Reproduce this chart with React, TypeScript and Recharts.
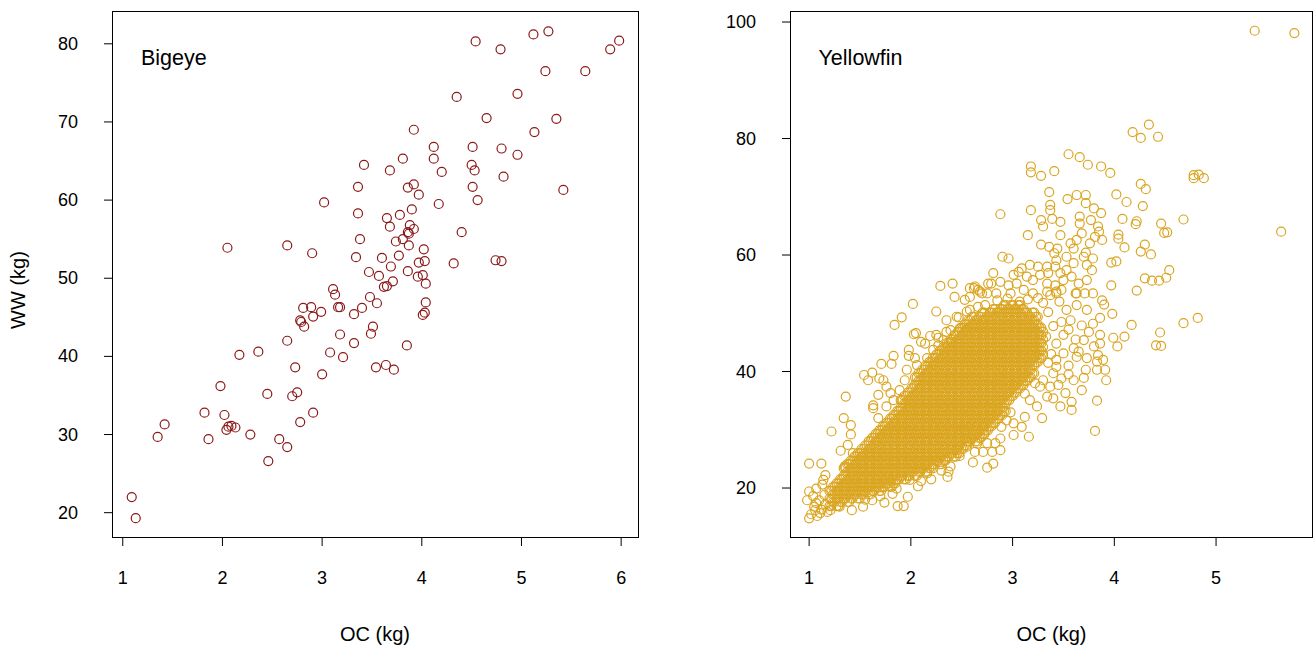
import React from 'react';
import { ScatterChart, Scatter, XAxis, YAxis } from 'recharts';

const FONT = '"Liberation Sans", Arial, Helvetica, sans-serif';

const bigeyeTicksX = [1, 2, 3, 4, 5, 6];
const bigeyeTicksY = [20, 30, 40, 50, 60, 70, 80];
const yellowfinTicksX = [1, 2, 3, 4, 5];
const yellowfinTicksY = [20, 40, 60, 80, 100];

// Bigeye: [OC (kg), WW (kg)]
const bigeyePoints: [number, number][] = [
  [4.54,80.3],[4.79,79.3],[5.12,81.2],[5.27,81.6],[5.89,79.3],[5.98,80.4],[5.24,76.5],[5.64,76.5],[4.35,73.2],[4.96,73.6],
  [4.65,70.5],[5.35,70.4],[5.13,68.7],[3.92,69.0],[4.12,66.8],[4.51,66.8],[4.80,66.6],[4.96,65.8],[3.81,65.3],[4.12,65.3],
  [3.42,64.5],[4.50,64.5],[4.53,63.8],[3.68,63.8],[4.20,63.6],[4.82,63.0],[3.36,61.7],[3.86,61.6],[3.92,62.0],[3.97,60.7],
  [4.51,61.7],[4.56,60.0],[5.42,61.3],[3.02,59.7],[4.17,59.5],[3.36,58.3],[3.90,58.8],[3.78,58.1],[3.65,57.7],[3.68,56.6],
  [3.88,56.8],[3.92,56.3],[3.86,55.9],[3.87,55.7],[3.81,55.0],[3.74,54.7],[3.87,54.2],[3.38,55.0],[4.40,55.9],[2.05,53.9],
  [2.65,54.2],[2.90,53.2],[3.34,52.7],[3.60,52.6],[3.77,52.9],[4.02,53.7],[4.03,52.2],[3.97,52.0],[3.69,51.5],[4.32,51.9],
  [4.74,52.3],[4.80,52.2],[3.47,50.8],[3.57,50.3],[3.86,50.9],[4.01,50.4],[3.96,50.2],[3.71,49.6],[4.04,49.3],[3.62,48.9],
  [3.65,49.0],[3.11,48.6],[3.13,47.9],[3.48,47.6],[3.55,46.8],[4.04,46.9],[2.81,46.2],[2.89,46.3],[3.16,46.3],[3.18,46.3],
  [3.40,46.2],[2.99,45.7],[2.91,45.1],[3.32,45.4],[2.78,44.6],[2.79,44.4],[2.82,43.8],[4.01,45.3],[4.03,45.6],[3.51,43.8],
  [3.49,42.9],[3.18,42.8],[2.65,42.0],[3.32,41.7],[3.85,41.4],[2.36,40.6],[2.17,40.2],[3.08,40.5],[3.21,39.9],[2.73,38.6],
  [3.54,38.6],[3.64,38.9],[3.72,38.3],[3.00,37.7],[1.98,36.2],[2.45,35.2],[2.70,34.9],[2.75,35.4],[1.82,32.8],[2.02,32.5],
  [2.91,32.8],[1.42,31.3],[2.78,31.6],[2.04,30.6],[2.06,31.0],[2.09,31.1],[2.13,30.9],[2.28,30.0],[1.35,29.7],[1.86,29.4],
  [2.57,29.4],[2.65,28.4],[2.46,26.6],[1.09,22.0],[1.13,19.3],
];

// Yellowfin: separately readable circles [OC (kg), WW (kg)]
const yellowfinSparse: [number, number][] = [
  [5.38,98.5],[5.77,98.1],[4.34,82.4],[4.18,81.1],[4.26,80.1],[4.43,80.3],[3.96,74.1],[4.78,73.7],[4.83,73.8],[4.78,73.2],
  [4.88,73.2],[4.26,72.2],[4.31,71.3],[4.02,70.4],[4.12,69.1],[4.28,68.4],[4.08,66.2],[4.22,65.8],[4.21,65.3],[4.46,65.4],
  [4.68,66.1],[4.49,63.8],[4.52,63.9],[5.64,64.0],[4.04,63.5],[4.04,62.8],[4.10,61.3],[4.30,61.8],[4.26,60.6],[4.36,60.1],
  [3.97,58.7],[4.02,58.9],[4.54,57.4],[4.30,56.0],[4.37,55.6],[4.44,55.6],[4.51,56.1],[3.97,54.8],[4.22,53.9],[3.79,53.4],
  [3.88,52.2],[3.90,51.5],[3.98,49.9],[3.86,49.2],[3.79,48.2],[4.17,48.0],[4.68,48.3],[4.82,49.2],[4.45,46.7],[3.86,46.3],
  [3.99,45.8],[4.10,46.0],[4.41,44.5],[4.46,44.4],
  [3.55,77.3],[3.66,76.8],[3.74,75.5],[3.87,75.2],[3.18,75.2],[3.18,74.2],[3.28,73.6],[3.41,74.4],[3.36,70.8],[3.54,69.6],
  [3.63,70.3],[3.72,70.3],[3.72,68.9],[3.80,68.0],[3.87,67.2],[3.37,68.6],[3.37,67.7],[2.88,67.0],[3.18,67.7],[3.28,66.0],
  [3.39,66.2],[3.47,65.7],[3.30,64.9],[3.66,66.6],[3.66,65.4],[3.77,66.0],[3.84,64.9],[3.85,64.0],[3.81,63.1],[3.88,62.6],
  [3.68,63.7],[3.63,62.6],[3.76,62.0],[3.15,63.4],[3.47,63.4],[3.28,61.8],[3.36,61.4],[3.44,61.1],[3.57,62.0],[3.60,61.1],
  [3.72,60.4],[2.90,59.7],[2.96,59.4],[3.41,60.3],[3.43,59.1],[3.53,59.7],[3.60,58.6],[3.70,59.7],[3.73,58.3],[3.79,59.4],
  [3.78,57.4],[3.09,57.7],[3.17,58.3],[3.25,58.0],[3.34,58.0],[3.42,58.0],[3.35,56.9],[3.47,56.9],[3.53,57.4],[3.58,56.3],
  [3.50,55.7],[3.42,54.8],[3.34,55.1],[3.27,56.6],[3.20,55.7],[3.14,56.3],[3.06,57.1],[3.01,56.6],[3.04,55.1],[2.96,54.8],
  [2.88,55.4],[2.81,56.9],[2.79,55.1],[2.75,53.4],[2.63,54.6],[2.66,54.0],[2.58,52.8],[2.70,53.4],[3.65,55.1],[3.73,55.7],
  [3.62,53.4],[3.71,53.4],[2.84,53.4],[2.98,53.4],[3.11,54.0],[3.20,53.4],[3.34,53.7],[3.43,53.4],[3.48,54.0],
  [2.29,54.7],[2.41,55.1],[2.43,52.8],[2.53,52.3],[2.58,54.3],[2.02,51.6],[2.25,50.3],[2.35,48.8],[2.45,49.4],[2.48,47.4],
  [2.55,50.3],[1.91,49.3],[1.84,48.0],[2.05,46.6],[2.10,45.1],[2.19,46.1],[2.25,46.3],[2.35,46.8],[2.32,45.4],[2.39,45.1],
  [1.98,43.7],[1.98,42.7],[2.04,42.3],[2.16,42.3],[2.22,43.7],[2.27,44.5],[1.83,42.7],[1.71,41.3],[1.81,41.3],[1.54,39.4],
  [1.58,38.5],[1.62,39.8],[1.69,38.8],[1.73,38.5],[1.76,37.4],[1.80,36.3],[1.68,36.0],[1.63,34.2],[1.36,35.7],[1.96,40.3],
  [2.06,41.1],[1.94,38.5],[1.89,36.8],[1.83,35.1],[1.76,34.0],
  [2.62,54.3],[2.68,53.7],[2.76,55.1],[2.47,49.3],[2.58,50.6],[2.66,51.1],[2.73,51.4],[2.03,46.4],[2.14,44.8],[2.27,45.8],
  [2.39,47.1],[2.55,47.1],
  [1.22,29.7],[1.34,32.0],[1.41,30.8],[1.41,29.2],[1.38,27.4],[1.31,26.4],[1.43,26.0],[1.35,23.7],[1.00,24.2],[1.12,24.2],
  [1.14,21.4],[1.16,22.2],[1.00,19.4],[0.98,17.9],[1.06,16.2],[1.00,14.8],[1.07,17.4],[1.11,15.7],[1.21,16.2],[1.30,16.8],
  [1.42,16.2],[1.53,16.8],[1.62,17.9],[1.74,17.5],[1.87,16.9],[1.93,16.9],[1.97,18.5],[1.86,19.9],[2.07,20.3],[1.99,21.4],
  [2.16,22.5],[2.22,23.4],[2.37,22.8],[2.36,21.9],[2.39,23.7],[2.34,24.8],[2.45,26.5],[2.55,27.1],[1.63,33.7],[1.68,32.0],
  [1.02,15.5],[1.05,16.8],[1.08,15.2],[1.10,17.9],[1.04,18.6],[1.12,16.3],[1.15,18.8],[1.18,15.9],[1.07,19.9],[1.13,20.6],
  [1.16,17.2],
  [3.80,44.3],[3.84,42.8],[3.89,42.0],[3.83,41.7],[3.91,40.3],[3.83,40.3],[3.92,38.5],[3.72,40.3],[3.73,42.3],[3.63,42.5],
  [3.65,43.4],[3.70,45.4],[3.86,44.8],[4.03,44.3],[3.63,51.4],[3.53,50.6],[3.57,48.8],[3.50,46.3],[3.43,44.8],[3.50,43.1],
  [3.43,42.0],[3.43,40.8],[3.40,39.7],[3.45,37.7],[3.37,37.4],[3.34,35.7],[3.40,35.4],[3.47,34.0],[3.58,34.8],[3.58,33.4],
  [3.83,35.0],[3.81,29.8],[3.29,32.0],[3.24,34.0],[3.17,35.1],[3.27,37.4],[3.30,38.5],[3.12,32.2],[3.01,31.1],[3.09,30.5],
  [3.16,28.8],[3.01,29.1],[2.89,30.5],[2.88,28.5],[2.83,27.7],[2.75,27.7],[2.88,26.5],[2.80,26.2],[2.71,26.2],[2.63,26.2],
  [2.61,24.4],[2.75,23.5],[2.81,24.2],[2.53,29.9],[2.55,28.0],[3.07,52.0],[3.37,53.1],[3.43,53.7],[3.63,53.4],[3.73,50.6],
  [3.35,50.2],[3.40,47.8],[3.33,46.0],[3.38,43.0],[3.55,41.0],[3.60,38.5],[3.52,36.3],[3.68,36.8],[3.62,45.5],[3.46,52.0],
  [3.30,51.8],[3.35,41.5],[3.25,52.6],[3.15,52.4],[2.95,52.5],[2.85,52.2],[3.22,38.0],[3.12,36.2],[2.98,33.0],[2.94,31.6],
  [2.72,29.2],[2.65,27.6],[2.48,25.5],[2.30,23.0],[2.20,21.5],[2.10,21.2],[1.82,19.0],[1.70,18.6],[1.55,18.0],[3.55,47.2],
  [3.48,48.5],[3.68,47.9],[3.75,46.8],[3.60,44.0],[3.55,39.5],[3.48,38.8],[3.70,38.9],
];

// Yellowfin: the overlapping solid mass, estimated strip by strip: [OC values, WW values]
const yellowfinDenseStrips: [number[], number[]][] = [
  [[1.200,1.2175],[16.9,18.2,19.5]],
  [[1.235,1.2525],[17.6,18.9,20.2]],
  [[1.270,1.2875],[16.9,18.2,19.5,20.8]],
  [[1.305,1.3225],[17.6,18.9,20.2,21.5]],
  [[1.340,1.3575],[18.2,19.5,20.8,22.1,23.4]],
  [[1.375,1.3925],[17.6,18.9,20.2,21.5,22.8,24.1]],
  [[1.410,1.4275],[18.2,19.5,20.8,22.1,23.4,24.7]],
  [[1.445,1.4625],[18.9,20.2,21.5,22.8,24.1,25.4]],
  [[1.480,1.4975],[18.2,19.5,20.8,22.1,23.4,24.7,26.0]],
  [[1.515,1.5325],[18.9,20.2,21.5,22.8,24.1,25.4,26.7]],
  [[1.550,1.5675],[19.5,20.8,22.1,23.4,24.7,26.0,27.3]],
  [[1.585,1.6025],[18.9,20.2,21.5,22.8,24.1,25.4,26.7,28.0]],
  [[1.620,1.6375],[19.5,20.8,22.1,23.4,24.7,26.0,27.3,28.6]],
  [[1.655,1.6725],[20.2,21.5,22.8,24.1,25.4,26.7,28.0,29.3]],
  [[1.690,1.7075],[19.5,20.8,22.1,23.4,24.7,26.0,27.3,28.6,29.9]],
  [[1.725,1.7425],[20.2,21.5,22.8,24.1,25.4,26.7,28.0,29.3,30.6]],
  [[1.760,1.7775],[20.8,22.1,23.4,24.7,26.0,27.3,28.6,29.9,31.2]],
  [[1.795,1.8125],[20.2,21.5,22.8,24.1,25.4,26.7,28.0,29.3,30.6,31.9]],
  [[1.830,1.8475],[20.8,22.1,23.4,24.7,26.0,27.3,28.6,29.9,31.2,32.5]],
  [[1.865,1.8825],[21.5,22.8,24.1,25.4,26.7,28.0,29.3,30.6,31.9,33.2]],
  [[1.900,1.9175],[22.1,23.4,24.7,26.0,27.3,28.6,29.9,31.2,32.5,33.8,35.1]],
  [[1.935,1.9525],[21.5,22.8,24.1,25.4,26.7,28.0,29.3,30.6,31.9,33.2,34.5,35.8]],
  [[1.970,1.9875],[22.1,23.4,24.7,26.0,27.3,28.6,29.9,31.2,32.5,33.8,35.1,36.4]],
  [[2.005,2.0225],[22.8,24.1,25.4,26.7,28.0,29.3,30.6,31.9,33.2,34.5,35.8,37.1]],
  [[2.040,2.0575],[22.1,23.4,24.7,26.0,27.3,28.6,29.9,31.2,32.5,33.8,35.1,36.4,37.7,39.0]],
  [[2.075,2.0925],[22.8,24.1,25.4,26.7,28.0,29.3,30.6,31.9,33.2,34.5,35.8,37.1,38.4,39.7]],
  [[2.110,2.1275],[23.4,24.7,26.0,27.3,28.6,29.9,31.2,32.5,33.8,35.1,36.4,37.7,39.0,40.3]],
  [[2.145,2.1625],[22.8,24.1,25.4,26.7,28.0,29.3,30.6,31.9,33.2,34.5,35.8,37.1,38.4,39.7,41.0]],
  [[2.180,2.1975],[23.4,24.7,26.0,27.3,28.6,29.9,31.2,32.5,33.8,35.1,36.4,37.7,39.0,40.3,41.6]],
  [[2.215,2.2325],[24.1,25.4,26.7,28.0,29.3,30.6,31.9,33.2,34.5,35.8,37.1,38.4,39.7,41.0,42.3]],
  [[2.250,2.2675],[24.7,26.0,27.3,28.6,29.9,31.2,32.5,33.8,35.1,36.4,37.7,39.0,40.3,41.6,42.9]],
  [[2.285,2.3025],[24.1,25.4,26.7,28.0,29.3,30.6,31.9,33.2,34.5,35.8,37.1,38.4,39.7,41.0,42.3,43.6]],
  [[2.320,2.3375],[24.7,26.0,27.3,28.6,29.9,31.2,32.5,33.8,35.1,36.4,37.7,39.0,40.3,41.6,42.9,44.2]],
  [[2.355,2.3725],[25.4,26.7,28.0,29.3,30.6,31.9,33.2,34.5,35.8,37.1,38.4,39.7,41.0,42.3,43.6,44.9]],
  [[2.390,2.4075],[26.0,27.3,28.6,29.9,31.2,32.5,33.8,35.1,36.4,37.7,39.0,40.3,41.6,42.9,44.2,45.5]],
  [[2.425,2.4425],[25.4,26.7,28.0,29.3,30.6,31.9,33.2,34.5,35.8,37.1,38.4,39.7,41.0,42.3,43.6,44.9,46.2]],
  [[2.460,2.4775],[26.0,27.3,28.6,29.9,31.2,32.5,33.8,35.1,36.4,37.7,39.0,40.3,41.6,42.9,44.2,45.5,46.8]],
  [[2.495,2.5125],[26.7,28.0,29.3,30.6,31.9,33.2,34.5,35.8,37.1,38.4,39.7,41.0,42.3,43.6,44.9,46.2,47.5]],
  [[2.530,2.5475],[27.3,28.6,29.9,31.2,32.5,33.8,35.1,36.4,37.7,39.0,40.3,41.6,42.9,44.2,45.5,46.8,48.1]],
  [[2.565,2.5825],[28.0,29.3,30.6,31.9,33.2,34.5,35.8,37.1,38.4,39.7,41.0,42.3,43.6,44.9,46.2,47.5,48.8]],
  [[2.600,2.6175],[28.6,29.9,31.2,32.5,33.8,35.1,36.4,37.7,39.0,40.3,41.6,42.9,44.2,45.5,46.8,48.1,49.4]],
  [[2.635,2.6525],[28.0,29.3,30.6,31.9,33.2,34.5,35.8,37.1,38.4,39.7,41.0,42.3,43.6,44.9,46.2,47.5,48.8]],
  [[2.670,2.6875],[28.6,29.9,31.2,32.5,33.8,35.1,36.4,37.7,39.0,40.3,41.6,42.9,44.2,45.5,46.8,48.1,49.4]],
  [[2.705,2.7225],[29.3,30.6,31.9,33.2,34.5,35.8,37.1,38.4,39.7,41.0,42.3,43.6,44.9,46.2,47.5,48.8,50.1]],
  [[2.740,2.7575],[29.9,31.2,32.5,33.8,35.1,36.4,37.7,39.0,40.3,41.6,42.9,44.2,45.5,46.8,48.1,49.4]],
  [[2.775,2.7925],[30.6,31.9,33.2,34.5,35.8,37.1,38.4,39.7,41.0,42.3,43.6,44.9,46.2,47.5,48.8,50.1]],
  [[2.810,2.8275],[31.2,32.5,33.8,35.1,36.4,37.7,39.0,40.3,41.6,42.9,44.2,45.5,46.8,48.1,49.4,50.7]],
  [[2.845,2.8625],[31.9,33.2,34.5,35.8,37.1,38.4,39.7,41.0,42.3,43.6,44.9,46.2,47.5,48.8,50.1]],
  [[2.880,2.8975],[32.5,33.8,35.1,36.4,37.7,39.0,40.3,41.6,42.9,44.2,45.5,46.8,48.1,49.4,50.7]],
  [[2.915,2.9325],[33.2,34.5,35.8,37.1,38.4,39.7,41.0,42.3,43.6,44.9,46.2,47.5,48.8,50.1,51.4]],
  [[2.950,2.9675],[35.1,36.4,37.7,39.0,40.3,41.6,42.9,44.2,45.5,46.8,48.1,49.4,50.7]],
  [[2.985,3.0025],[35.8,37.1,38.4,39.7,41.0,42.3,43.6,44.9,46.2,47.5,48.8,50.1,51.4]],
  [[3.020,3.0375],[36.4,37.7,39.0,40.3,41.6,42.9,44.2,45.5,46.8,48.1,49.4,50.7]],
  [[3.055,3.0725],[37.1,38.4,39.7,41.0,42.3,43.6,44.9,46.2,47.5,48.8,50.1,51.4]],
  [[3.090,3.1075],[37.7,39.0,40.3,41.6,42.9,44.2,45.5,46.8,48.1,49.4,50.7]],
  [[3.125,3.1425],[38.4,39.7,41.0,42.3,43.6,44.9,46.2,47.5,48.8,50.1]],
  [[3.160,3.1775],[39.0,40.3,41.6,42.9,44.2,45.5,46.8,48.1,49.4]],
  [[3.195,3.2125],[39.7,41.0,42.3,43.6,44.9,46.2,47.5,48.8,50.1]],
  [[3.230,3.2475],[41.6,42.9,44.2,45.5,46.8,48.1,49.4]],
  [[3.265,3.2825],[42.3,43.6,44.9,46.2,47.5]],
  [[3.300],[42.9,44.2,45.5,46.8]],
];

const bigeyeData = bigeyePoints.map(([x, y]) => ({ x, y }));
const yellowfinData = [
  ...yellowfinDenseStrips.flatMap(([xs, ys]) => xs.flatMap((x) => ys.map((y) => ({ x, y })))),
  ...yellowfinSparse.map(([x, y]) => ({ x, y })),
];

const ring = (color: string) => (props: any) => (
  <circle cx={props.cx} cy={props.cy} r={4.5} fill="none" stroke={color} strokeWidth={1.2} />
);

const XTick = (p: any) => (
  <text x={p.x} y={p.y} textAnchor="middle" dominantBaseline="central" fontSize={18} fontFamily={FONT} fill="#000">
    {p.payload.value}
  </text>
);
const YTick = (p: any) => (
  <text x={p.x} y={p.y} textAnchor="end" dominantBaseline="central" fontSize={18} fontFamily={FONT} fill="#000">
    {p.payload.value}
  </text>
);

type PanelProps = {
  left: number; width: number; yAxisWidth: number; marginRight: number;
  data: { x: number; y: number }[]; color: string;
  xDomain: [number, number]; yDomain: [number, number];
  xTicks: number[]; yTicks: number[];
};

function Panel({ left, width, yAxisWidth, marginRight, data, color, xDomain, yDomain, xTicks, yTicks }: PanelProps) {
  return (
    <div style={{ position: 'absolute', left, top: 0, width, height: 645 }}>
      <ScatterChart width={width} height={645} margin={{ top: 12, right: marginRight, bottom: 0, left: 0 }}>
        <XAxis
          type="number" dataKey="x" domain={xDomain} allowDataOverflow ticks={xTicks} interval={0}
          height={107} axisLine={false} tickLine={{ stroke: '#000', strokeWidth: 1 }} tickSize={8} tickMargin={32}
          tick={XTick}
        />
        <YAxis
          type="number" dataKey="y" domain={yDomain} allowDataOverflow ticks={yTicks} interval={0}
          width={yAxisWidth} axisLine={false} tickLine={{ stroke: '#000', strokeWidth: 1 }} tickSize={8} tickMargin={26}
          tick={YTick}
        />
        <Scatter data={data} isAnimationActive={false} shape={ring(color)} />
      </ScatterChart>
    </div>
  );
}

export default function App() {
  return (
    <div style={{ position: 'absolute', left: 0, top: 0, width: 1315, height: 645, background: '#fff', overflow: 'hidden' }}>
      <Panel
        left={0} width={650} yAxisWidth={112} marginRight={12}
        data={bigeyeData} color="#8B1A1A"
        xDomain={[0.892, 6.169]} yDomain={[16.76, 84.07]}
        xTicks={bigeyeTicksX} yTicks={bigeyeTicksY}
      />
      <Panel
        left={660} width={655} yAxisWidth={130} marginRight={2}
        data={yellowfinData} color="#DAA520"
        xDomain={[0.812, 5.953]} yDomain={[11.42, 101.72]}
        xTicks={yellowfinTicksX} yTicks={yellowfinTicksY}
      />
      <svg width={1315} height={645} style={{ position: 'absolute', left: 0, top: 0, pointerEvents: 'none' }}>
        <rect x={112.5} y={11.5} width={526} height={526} fill="none" stroke="#000" strokeWidth={1} />
        <rect x={790.5} y={11.5} width={522} height={526} fill="none" stroke="#000" strokeWidth={1} />
        <text x={141} y={65} fontSize={21.5} fontFamily={FONT} fill="#000">Bigeye</text>
        <text x={818.5} y={65} fontSize={21.5} fontFamily={FONT} fill="#000">Yellowfin</text>
        <text x={375} y={634} textAnchor="middle" dominantBaseline="central" fontSize={20} fontFamily={FONT} fill="#000">OC (kg)</text>
        <text x={1051.5} y={634} textAnchor="middle" dominantBaseline="central" fontSize={20} fontFamily={FONT} fill="#000">OC (kg)</text>
        <text x={18} y={290} transform="rotate(-90 18 290)" textAnchor="middle" dominantBaseline="central" fontSize={20} fontFamily={FONT} fill="#000">WW (kg)</text>
      </svg>
    </div>
  );
}
